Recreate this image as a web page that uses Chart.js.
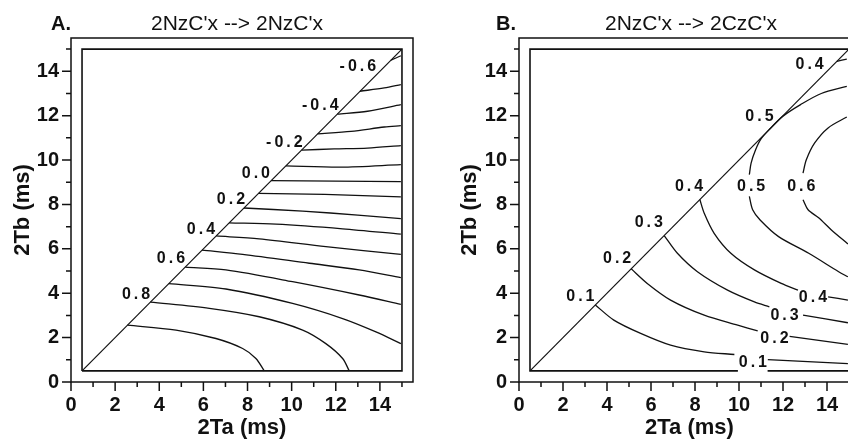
<!DOCTYPE html>
<html>
<head>
<meta charset="utf-8">
<script src="https://cdn.jsdelivr.net/npm/chart.js@4.4.1/dist/chart.umd.min.js"></script>
<style>
  html, body { margin: 0; padding: 0; background: #fff; overflow: hidden; width: 848px; height: 439px; }
  .panel { position: absolute; top: 0; height: 439px; }
  #panelA { left: 0; width: 424px; }
  #panelB { left: 424px; width: 440px; }
</style>
</head>
<body>
<div class="panel" id="panelA"><canvas id="chartA"></canvas></div>
<div class="panel" id="panelB"><canvas id="chartB"></canvas></div>
<script>
// axis ticks (ms)
const tickValues = [0, 1, 2, 3, 4, 5, 6, 7, 8, 9, 10, 11, 12, 13, 14, 15];
const tickLabels = [0, 2, 4, 6, 8, 10, 12, 14];

// computed region: box 0.5..15 and the 2Ta = 2Tb diagonal
const boundaryA = [[0.5, 0.5], [15, 0.5], [15, 15], [0.5, 15], [0.5, 0.5]];
const boundaryB = [[11.3, 0.5], [15, 0.5], [15, 15], [0.5, 15], [0.5, 0.5], [9.95, 0.5]];
const diagonal = [[0.5, 0.5], [15, 15]];

// A. 2NzC'x --> 2NzC'x, contour levels -0.6 .. 0.9 (step 0.1)
const contoursA = [
  [[14.5, 14.5], [14.95, 14.7]],
  [[13.1, 13.1], [14.2, 13.25], [14.95, 13.4]],
  [[12.07, 12.07], [13.44, 12.2], [14.95, 12.5]],
  [[11.18, 11.18], [12.69, 11.29], [14.2, 11.49], [14.95, 11.55]],
  [[10.45, 10.45], [11.93, 10.5], [13.44, 10.54], [14.95, 10.65]],
  [[9.74, 9.74], [12.23, 9.68], [14.95, 9.79]],
  [[9.07, 9.07], [12, 9.05], [14.95, 9.03]],
  [[8.5, 8.5], [11.5, 8.45], [14.95, 8.34]],
  [[7.84, 7.84], [10.5, 7.7], [13, 7.52], [14.95, 7.36]],
  [[7.17, 7.17], [9.29, 7.11], [12.31, 6.9], [14.95, 6.66]],
  [[6.58, 6.58], [8.53, 6.45], [11.55, 6.1], [14.95, 5.75]],
  [[5.94, 5.94], [7.78, 5.75], [10.8, 5.35], [13.06, 5.05], [14.95, 4.7]],
  [[5.18, 5.18], [7.02, 5.05], [10.04, 4.52], [13.06, 3.92], [14.95, 3.5]],
  [[4.43, 4.43], [7.02, 4.19], [10.04, 3.54], [12.31, 2.86], [13.82, 2.26], [14.95, 1.73]],
  [[3.6, 3.6], [6.27, 3.32], [8.53, 2.94], [10.5, 2.34], [11.55, 1.73], [12.31, 1.06], [12.61, 0.5]],
  [[2.56, 2.56], [4.76, 2.34], [6.57, 1.96], [7.78, 1.51], [8.38, 1.06], [8.76, 0.5]]
];
const labelTextA = ['-0.6', '-0.4', '-0.2', '0.0', '0.2', '0.4', '0.6', '0.8'];
const labelPosA = [[13.0, 14.23], [11.3, 12.46], [9.67, 10.77], [8.38, 9.41], [7.25, 8.21], [5.89, 6.85], [4.53, 5.57], [2.95, 3.92]];

// B. 2NzC'x --> 2CzC'x, contours broken where their labels sit
const contoursB = [
  [[14.45, 14.45], [14.9, 14.55]],
  [[14.9, 13.32], [13.74, 13.0], [12.8, 12.5], [12.0, 11.98], [11.4, 11.4], [11.0, 10.95], [10.75, 10.45], [10.55, 9.86], [10.47, 9.34]],
  [[10.47, 8.36], [10.62, 7.76], [10.96, 7.3], [11.8, 6.55], [13.17, 5.8], [14.53, 4.97], [14.95, 4.74]],
  [[14.9, 11.94], [14.05, 11.45], [13.44, 10.77], [13.06, 10.01], [12.91, 9.41]],
  [[12.91, 8.21], [13.14, 7.76], [13.62, 7.4], [14.2, 6.85], [14.95, 6.22]],
  [[8.22, 8.22], [8.42, 7.6], [8.87, 6.7], [9.63, 5.8], [10.7, 5.05], [11.92, 4.44], [12.68, 4.14]],
  [[14.05, 3.84], [14.95, 3.69]],
  [[6.6, 6.6], [7.2, 5.8], [8.11, 4.97], [9.48, 4.14], [10.7, 3.61], [11.38, 3.39]],
  [[12.91, 3.01], [14.95, 2.67]],
  [[5.1, 5.1], [5.83, 4.44], [6.89, 3.69], [8.42, 3.01], [9.94, 2.56], [10.85, 2.3]],
  [[12.3, 2.06], [14.95, 1.7]],
  [[3.47, 3.47], [4.31, 2.79], [5.53, 2.19], [6.89, 1.66], [8.42, 1.36], [9.79, 1.24]],
  [[11.31, 1.01], [14.95, 0.83]]
];
const labelTextB = ['0.4', '0.5', '0.4', '0.5', '0.6', '0.3', '0.2', '0.1', '0.4', '0.3', '0.2', '0.1'];
const labelPosB = [[13.21, 14.3], [10.93, 11.94], [7.73, 8.81], [10.55, 8.81], [12.83, 8.81], [5.9, 7.18], [4.46, 5.57], [2.79, 3.87], [13.36, 3.81], [12.07, 2.97], [11.61, 1.96], [10.63, 0.86]];

const FONT = '"Liberation Sans", Arial, Helvetica, sans-serif';
const INK = '#111';

const toPoints = arr => arr.map(p => ({ x: p[0], y: p[1] }));

// frame, tick marks, contour labels and panel titles
const decorPlugin = {
  id: 'decor',
  afterDraw(chart, args, opts) {
    const { ctx, chartArea: a, scales: { x, y } } = chart;
    ctx.save();
    ctx.strokeStyle = INK;
    ctx.lineWidth = 1.5;
    ctx.strokeRect(a.left, a.top, a.right - a.left, a.bottom - a.top);

    ctx.beginPath();
    tickValues.forEach(v => {
      const len = tickLabels.includes(v) ? 9 : 5;
      const px = x.getPixelForValue(v);
      ctx.moveTo(px, a.bottom);
      ctx.lineTo(px, a.bottom + len);
      const py = y.getPixelForValue(v);
      ctx.moveTo(a.left, py);
      ctx.lineTo(a.left - len, py);
    });
    ctx.stroke();

    // contour labels, letter spaced
    ctx.fillStyle = INK;
    ctx.font = `bold 16px ${FONT}`;
    ctx.textBaseline = 'middle';
    ctx.textAlign = 'left';
    const gap = 3;
    opts.labelText.forEach((txt, i) => {
      const chars = txt.split('');
      const widths = chars.map(c => ctx.measureText(c).width);
      const total = widths.reduce((s, w) => s + w, 0) + gap * (chars.length - 1);
      let cx = x.getPixelForValue(opts.labelPos[i][0]) - total / 2;
      const cy = y.getPixelForValue(opts.labelPos[i][1]);
      chars.forEach((c, k) => {
        ctx.fillText(c, cx, cy);
        cx += widths[k] + gap;
      });
    });

    // panel letter and heading
    ctx.textAlign = 'center';
    ctx.font = `bold 20px ${FONT}`;
    ctx.fillText(opts.letter, opts.letterX, 24);
    ctx.font = `21px ${FONT}`;
    ctx.fillText(opts.heading, opts.headingX, 24);
    ctx.restore();
  }
};

function makeChart(canvasId, boundary, contours, panel) {
  const lines = [
    { data: toPoints(boundary), borderWidth: 1.6, tension: 0 },
    { data: toPoints(diagonal), borderWidth: 1.2, tension: 0 }
  ].concat(contours.map(c => ({ data: toPoints(c), borderWidth: 1.3, tension: 0.3 })));

  const datasets = lines.map(d => Object.assign({
    showLine: true,
    pointRadius: 0,
    borderColor: INK,
    fill: false
  }, d));

  const tickFont = { family: FONT, size: 20, weight: 'bold' };
  const titleFont = { family: FONT, size: 22, weight: 'bold', lineHeight: 1 };

  return new Chart(document.getElementById(canvasId), {
    type: 'scatter',
    data: { datasets },
    plugins: [decorPlugin],
    options: {
      responsive: true,
      maintainAspectRatio: false,
      animation: false,
      layout: { padding: { top: 38, right: panel.rightPad, left: 0, bottom: 0 } },
      plugins: {
        legend: { display: false },
        tooltip: { enabled: false },
        decor: panel
      },
      scales: {
        x: {
          type: 'linear',
          min: 0,
          max: 15.5,
          afterFit: s => { s.height = 57; },
          grid: { display: false, drawTicks: false },
          border: { display: false },
          ticks: {
            stepSize: 1,
            includeBounds: false,
            autoSkip: false,
            maxRotation: 0,
            padding: 11,
            color: INK,
            font: tickFont,
            callback: v => (tickLabels.includes(v) ? String(v) : '')
          },
          title: { display: true, text: '2Ta (ms)', color: INK, font: titleFont, padding: { top: 0, bottom: 0 } }
        },
        y: {
          type: 'linear',
          min: 0,
          max: 15.5,
          afterFit: s => { s.width = panel.yWidth; },
          grid: { display: false, drawTicks: false },
          border: { display: false },
          ticks: {
            stepSize: 1,
            includeBounds: false,
            autoSkip: false,
            padding: 12,
            color: INK,
            font: tickFont,
            callback: v => (tickLabels.includes(v) ? String(v) : '')
          },
          title: { display: true, text: '2Tb (ms)', color: INK, font: titleFont, padding: { top: panel.yTitlePad, bottom: 0 } }
        }
      }
    }
  });
}

makeChart('chartA', boundaryA, contoursA, {
  letter: 'A.', letterX: 61, heading: "2NzC'x --> 2NzC'x", headingX: 237,
  labelText: labelTextA, labelPos: labelPosA,
  yWidth: 71, rightPad: 11, yTitlePad: 12
});

makeChart('chartB', boundaryB, contoursB, {
  letter: 'B.', letterX: 82, heading: "2NzC'x --> 2CzC'x", headingX: 267,
  labelText: labelTextB, labelPos: labelPosB,
  yWidth: 95, rightPad: 4, yTitlePad: 35
});
</script>
</body>
</html>
